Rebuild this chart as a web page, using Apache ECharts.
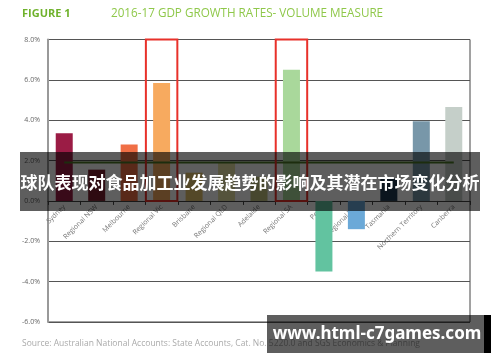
<!DOCTYPE html>
<html><head><meta charset="utf-8">
<script src="https://cdn.jsdelivr.net/npm/echarts@6/dist/echarts.min.js"></script>
<style>html,body{margin:0;padding:0;background:#fff}#c{width:500px;height:362px}</style>
</head><body><div id="c"></div>
<script>
const categories = ['Sydney','Regional NSW','Melbourne','Regional Vic','Brisbane','Regional QLD','Adelaide','Regional SA','Perth','Regional WA','Tasmania','Northern Territory','Canberra'];
const growth = [3.35, 1.55, 2.8, 5.85, 1.4, 1.9, 1.2, 6.5, -3.5, -1.4, 1.1, 3.95, 4.65];
const barColors = ['#9b1c45','#7c1f2f','#f06f46','#f7aa5f','#e3c36e','#e6e2a4','#c2c27e','#a9d89b','#62c3a0','#6ba9d8','#1f3a52','#7897a9','#c5cfc9'];
const australianAverage = 1.9;
const highlighted = ['Regional Vic','Regional SA'];
const yTicks = [-6, -4, -2, 0, 2, 4, 6, 8];

const chart = echarts.init(document.getElementById('c'));
const option = {
  animation: false,
  textStyle: {fontFamily: 'Open Sans'},
  grid: {left: 48, right: 30, top: 39.5, bottom: 40, containLabel: false, outerBoundsMode: 'none',
         show: true, borderColor: '#444', borderWidth: 1, backgroundColor: 'transparent'},
  xAxis: {
    type: 'category', data: categories, boundaryGap: true,
    axisLine: {onZero: false, lineStyle: {color: '#444', width: 1}},
    axisTick: {show: true, interval: 0, length: 4, lineStyle: {color: '#444'}},
    axisLabel: {interval: 0, rotate: 45, fontSize: 7, color: '#777', margin: 5}
  },
  yAxis: {
    type: 'value', min: yTicks[0], max: yTicks[yTicks.length-1], interval: 2,
    axisLine: {show: true, lineStyle: {color: '#999', width: 2}},
    axisTick: {show: false},
    axisLabel: {fontSize: 7, color: '#666', margin: 8, formatter: v => v.toFixed(1) + '%'},
    splitLine: {lineStyle: {color: '#555', width: 1}}
  },
  series: [{
    type: 'bar', barWidth: 17,
    data: growth.map((v, i) => ({value: v, itemStyle: {color: barColors[i]}}))
  },{
    type: 'line', symbol: 'none', z: 3,
    lineStyle: {color: '#4e7a28', width: 2},
    data: categories.map((c, i) => ({
      value: australianAverage,
      label: i === 9 ? {show: true, position: 'top', formatter: 'AUSTRALIAN AVERAGE', fontSize: 6, color: '#333', distance: 3} : {show: false}
    }))
  }]
};
chart.setOption(option);

const bandW = chart.convertToPixel({xAxisIndex: 0}, categories[1]) - chart.convertToPixel({xAxisIndex: 0}, categories[0]);
const yTop = chart.convertToPixel({yAxisIndex: 0}, yTicks[yTicks.length-1]);
const yZero = chart.convertToPixel({yAxisIndex: 0}, 0);
const yBottom = chart.convertToPixel({yAxisIndex: 0}, yTicks[0]);
const graphics = highlighted.map(c => {
  const cx = chart.convertToPixel({xAxisIndex: 0}, c);
  return {type: 'rect', z: 10, shape: {x: cx - bandW/2 + 0.5, y: yTop, width: bandW - 1, height: yZero - yTop},
          style: {fill: 'none', stroke: '#e8312a', lineWidth: 2}};
});
graphics.push(
  {type: 'text', left: 22, top: 8, style: {text: 'FIGURE 1', font: 'bold 11px "Open Sans"', fill: '#6fb22c'}},
  {type: 'text', left: 111, top: 7.5, style: {text: '2016-17 GDP GROWTH RATES- VOLUME MEASURE', font: '11.7px "Open Sans"', fill: '#8fc84a'}},
  {type: 'text', left: 22, top: 339, style: {text: 'Source: Australian National Accounts: State Accounts, Cat. No. 5220.0 and SGS Economics & Planning', font: '8.5px "Open Sans"', fill: '#aaa'}},
  {type: 'rect', z: 20, shape: {x: 20, y: 152, width: 460, height: 59}, style: {fill: 'rgba(0,0,0,0.63)'}},
  {type: 'text', z: 21, x: 250, y: 183, style: {text: '球队表现对食品加工业发展趋势的影响及其潜在市场变化分析', font: 'bold 17px "Noto Sans CJK SC"', fill: '#fff', align: 'center', verticalAlign: 'middle'}},
  {type: 'rect', z: 20, shape: {x: 267, y: 315, width: 217, height: 38}, style: {fill: 'rgba(0,0,0,0.63)'}},
  {type: 'rect', z: 20, shape: {x: 484, y: 315, width: 7, height: 38}, style: {fill: '#000'}},
  {type: 'text', z: 21, x: 377, y: 334, style: {text: 'www.html-c7games.com', font: 'bold 17px "Noto Sans"', fill: '#fff', align: 'center', verticalAlign: 'middle'}}
);
chart.setOption({xAxis: {offset: yZero - yBottom}, graphic: graphics});
</script></body></html>
